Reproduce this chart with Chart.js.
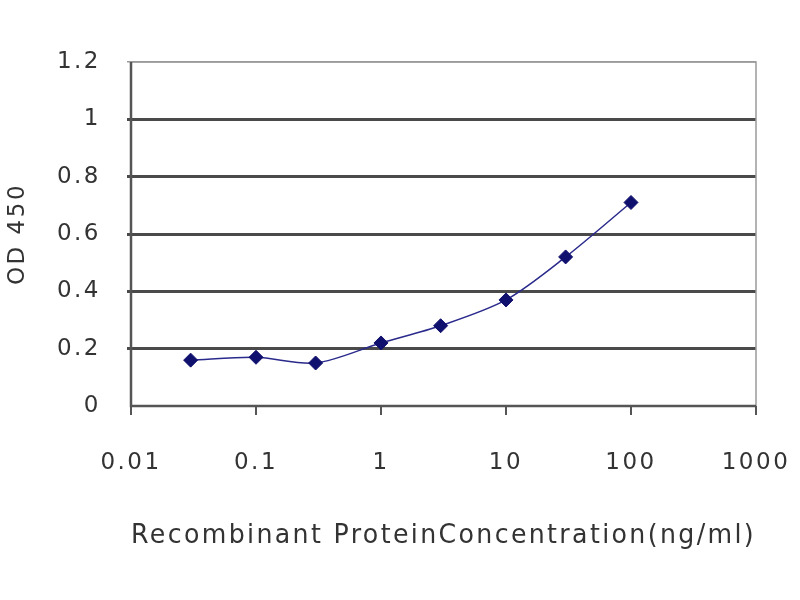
<!DOCTYPE html>
<html>
<head>
<meta charset="utf-8">
<script src="https://cdn.jsdelivr.net/npm/chart.js@4/dist/chart.umd.min.js"></script>
<style>
  html, body { margin: 0; padding: 0; background: #fff; }
  #wrap { width: 800px; height: 600px; }
</style>
</head>
<body>
<div id="wrap"><canvas id="odChart" width="800" height="600"></canvas></div>
<script>
// concentration (ng/ml) and OD 450
const concentrations = [0.03, 0.1, 0.3, 1, 3, 10, 30, 100];
const odValues = [0.16, 0.17, 0.15, 0.22, 0.28, 0.37, 0.52, 0.71];
const xTicks = [0.01, 0.1, 1, 10, 100, 1000];
const yTicks = [0, 0.2, 0.4, 0.6, 0.8, 1, 1.2];

let points = [];
concentrations.forEach((c, i) => {
    points.push({ x: c, y: odValues[i] });
});

// the source text is drawn wide, spread the letters a bit
const wideText = {
    id: 'wideText',
    beforeUpdate(chart) { chart.ctx.letterSpacing = '2.5px'; },
    beforeDraw(chart) { chart.ctx.letterSpacing = '2.5px'; }
};

// thin grey frame round the plot area
const plotFrame = {
    id: 'plotFrame',
    beforeDatasetsDraw(chart) {
        const a = chart.chartArea;
        const ctx = chart.ctx;
        ctx.save();
        ctx.strokeStyle = '#9a9a9a';
        ctx.lineWidth = 1.5;
        ctx.beginPath();
        ctx.moveTo(a.left, a.top);
        ctx.lineTo(a.right, a.top);
        ctx.lineTo(a.right, a.bottom);
        ctx.stroke();
        ctx.strokeStyle = '#555';
        ctx.lineWidth = 2.5;
        ctx.beginPath();
        ctx.moveTo(a.left, a.top);
        ctx.lineTo(a.left, a.bottom);
        ctx.lineTo(a.right, a.bottom);
        ctx.stroke();
        ctx.restore();
    }
};

const data = {
    datasets: [{
        label: 'OD 450',
        data: points,
        borderColor: '#2a2a8c',
        backgroundColor: '#10106e',
        borderWidth: 1.5,
        pointStyle: 'rectRot',
        pointRadius: 7,
        pointBorderWidth: 1,
        pointBorderColor: '#10106e',
        tension: 0.3
    }]
};

const tickFont = { family: 'DejaVu Sans, sans-serif', size: 23 };
const titleFont = { family: 'DejaVu Sans, sans-serif', size: 27 };

const config = {
    type: 'line',
    data: data,
    plugins: [wideText, plotFrame],
    options: {
        responsive: false,
        animation: false,
        layout: { padding: { top: 62, right: 44, left: 0, bottom: 44 } },
        plugins: {
            legend: { display: false },
            tooltip: { enabled: false }
        },
        scales: {
            x: {
                type: 'logarithmic',
                min: 0.01,
                max: 1000,
                afterBuildTicks: (scale) => {
                    scale.ticks = xTicks.map(v => ({ value: v }));
                },
                afterFit: (scale) => {
                    scale.height = 150;
                    scale.paddingLeft = 0;
                    scale.paddingRight = 0;
                },
                border: { display: false },
                grid: {
                    drawOnChartArea: false,
                    drawTicks: true,
                    tickLength: 9,
                    color: '#555',
                    lineWidth: 2
                },
                ticks: {
                    color: '#333',
                    font: tickFont,
                    padding: 34,
                    maxRotation: 0,
                    autoSkip: false,
                    callback: (value) => String(value)
                },
                title: {
                    display: true,
                    text: 'Recombinant ProteinConcentration(ng/ml)',
                    color: '#333',
                    font: titleFont,
                    padding: { top: 30 }
                }
            },
            y: {
                min: 0,
                max: 1.2,
                afterBuildTicks: (scale) => {
                    scale.ticks = yTicks.map(v => ({ value: v }));
                },
                afterFit: (scale) => {
                    scale.width = 131;
                    scale.paddingTop = 0;
                    scale.paddingBottom = 0;
                },
                border: { display: false },
                grid: {
                    color: (ctx) => ctx.tick && ctx.tick.value >= 1.2 ? '#9a9a9a' : (ctx.tick && ctx.tick.value === 0 ? 'rgba(0,0,0,0)' : '#4a4a4a'),
                    lineWidth: (ctx) => ctx.tick && ctx.tick.value >= 1.2 ? 1.5 : 3,
                    tickLength: 4
                },
                ticks: {
                    color: '#333',
                    font: tickFont,
                    padding: 26,
                    callback: (value) => String(Math.round(value * 10) / 10)
                },
                title: {
                    display: true,
                    text: 'OD 450',
                    color: '#333',
                    font: { family: 'DejaVu Sans, sans-serif', size: 23 },
                    padding: { bottom: 2 }
                }
            }
        }
    }
};

const odChart = new Chart(document.getElementById('odChart'), config);
</script>
</body>
</html>
